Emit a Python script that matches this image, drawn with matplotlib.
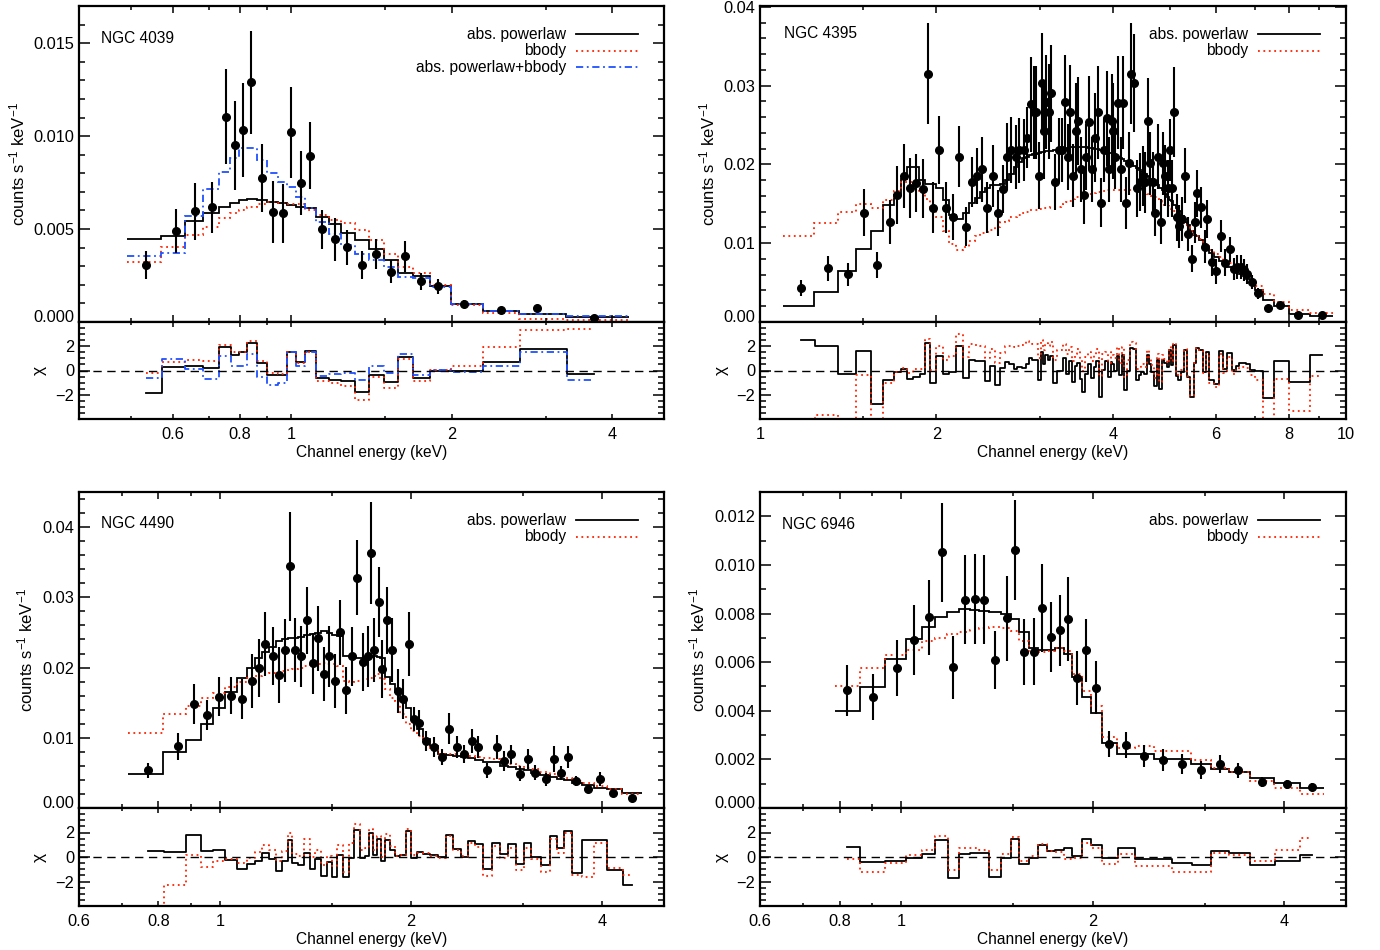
import numpy as np
import matplotlib
matplotlib.use("Agg")
import matplotlib.pyplot as plt
from matplotlib.ticker import FixedLocator, FixedFormatter, NullFormatter, MultipleLocator

plt.rcParams['font.family'] = ['Liberation Sans', 'DejaVu Sans']
plt.rcParams['mathtext.default'] = 'regular'
plt.rcParams['font.size'] = 11

# ---------------------------------------------------------------- NGC 4039
e_4039 = [0.535, 0.608, 0.659, 0.710, 0.755, 0.784, 0.813, 0.842, 0.880, 0.925, 0.966, 1.000, 1.041,
          1.086, 1.144, 1.208, 1.275, 1.356, 1.445, 1.538, 1.636, 1.749, 1.888, 2.106, 2.478, 2.894, 3.698]
flux_4039 = [0.00305, 0.00489, 0.00596, 0.00616, 0.01105, 0.00950, 0.01033, 0.01290, 0.00776, 0.00591,
             0.00584, 0.01020, 0.00747, 0.00895, 0.00498, 0.00444, 0.00401, 0.00305, 0.00365, 0.00271,
             0.00354, 0.00219, 0.00192, 0.00095, 0.00066, 0.00077, 0.00023]
err_4039 = [0.00075, 0.00119, 0.00153, 0.00135, 0.00256, 0.00241, 0.00252, 0.00276, 0.00182, 0.00165,
            0.00157, 0.00245, 0.00171, 0.00181, 0.00106, 0.00115, 0.00094, 0.00075, 0.00081, 0.00063,
            0.00083, 0.00047, 0.00040, 0.00022, 0.00016, 0.00016, 0.00010]
pl_4039 = [0.00446, 0.00462, 0.00543, 0.00589, 0.00620, 0.00641, 0.00656, 0.00663, 0.00656, 0.00647,
           0.00638, 0.00631, 0.00620, 0.00611, 0.00566, 0.00526, 0.00481, 0.00440, 0.00395, 0.00332,
           0.00266, 0.00246, 0.00194, 0.00099, 0.00057, 0.00045, 0.00027]
bb_4039 = [0.00323, 0.00404, 0.00467, 0.00512, 0.00557, 0.00584, 0.00602, 0.00620, 0.00634, 0.00643,
           0.00638, 0.00634, 0.00634, 0.00602, 0.00575, 0.00548, 0.00534, 0.00494, 0.00440, 0.00368,
           0.00296, 0.00261, 0.00198, 0.00090, 0.00049, 0.00018, 0.00010]
plbb_4039 = [0.00356, 0.00372, 0.00570, 0.00713, 0.00805, 0.00880, 0.00934, 0.00934, 0.00871, 0.00800,
             0.00755, 0.00728, 0.00674, 0.00611, 0.00539, 0.00473, 0.00413, 0.00365, 0.00336, 0.00296,
             0.00243, 0.00239, 0.00189, 0.00099, 0.00059, 0.00045, 0.00030]
chi_pl_4039 = [-1.87, 0.25, 0.35, 0.2, 1.9, 1.3, 1.5, 2.3, 0.6, -0.35, -0.4, 1.55, 0.7, 1.6, -0.65, -0.75,
               -0.85, -1.75, -0.4, -0.95, 1.1, -0.6, 0.0, -0.05, 0.7, 1.8, -0.25]
chi_bb_4039 = [-0.2, 0.7, 0.9, 0.75, 2.1, 1.55, 1.55, 2.45, 0.75, -0.2, -0.3, 1.55, 0.6, 1.55, -0.9, -1.0,
               -1.3, -2.4, -0.55, -1.45, 0.95, -0.85, 0.05, 0.4, 1.9, 3.3, 3.45]
chi_plbb_4039 = [-0.65, 0.95, 0.15, -0.7, 1.2, 0.35, 0.4, 1.35, -0.55, -1.2, -1.05, 1.55, 0.4, 1.5, -0.45,
                 -0.3, -0.2, -0.8, 0.4, -0.2, 1.4, -0.35, 0.05, -0.15, 0.35, 1.5, -0.8]
edge_4039 = (0.492, 4.30)

# ---------------------------------------------------------------- NGC 4395
e_4395 = [1.174, 1.306, 1.414, 1.504, 1.585, 1.664, 1.716, 1.759, 1.804, 1.849, 1.894, 1.932, 1.972, 2.022,
          2.077, 2.132, 2.186, 2.247, 2.301, 2.350, 2.391, 2.442, 2.497, 2.547, 2.597, 2.639, 2.684, 2.734,
          2.767, 2.822, 2.859, 2.897, 2.932, 2.963, 2.995, 3.030, 3.058, 3.082, 3.114, 3.143, 3.185, 3.236,
          3.280, 3.310, 3.349, 3.385, 3.425, 3.461, 3.494, 3.530, 3.568, 3.606, 3.649, 3.692, 3.730, 3.770,
          3.815, 3.860, 3.906, 3.948, 3.984, 4.005, 4.036, 4.085, 4.128, 4.161, 4.211, 4.256, 4.295, 4.351,
          4.398, 4.456, 4.498, 4.545, 4.599, 4.634, 4.679, 4.727, 4.778, 4.829, 4.873, 4.918, 4.970, 5.015,
          5.049, 5.095, 5.143, 5.197, 5.253, 5.322, 5.372, 5.464, 5.535, 5.579, 5.654, 5.735, 5.797, 5.896,
          6.007, 6.127, 6.217, 6.330, 6.431, 6.527, 6.613, 6.711, 6.790, 6.899, 7.065, 7.369, 7.715, 8.282,
          9.107]
flux_4395 = [0.00434, 0.00683, 0.00604, 0.01388, 0.00726, 0.01270, 0.01612, 0.01852, 0.01701, 0.01768,
             0.01692, 0.03152, 0.01452, 0.02186, 0.01452, 0.01329, 0.02097, 0.01211, 0.01776, 0.01856,
             0.01937, 0.01452, 0.01848, 0.01388, 0.01692, 0.02097, 0.02182, 0.02097, 0.02182, 0.02182,
             0.02341, 0.02764, 0.02659, 0.02659, 0.01856, 0.03034, 0.02426, 0.02794, 0.02671, 0.02903,
             0.01773, 0.02182,
             0.02182, 0.02794, 0.02097, 0.02666, 0.01856, 0.02426, 0.02553, 0.01937, 0.01608, 0.02097,
             0.02532, 0.01937, 0.02341, 0.02662, 0.01515, 0.02182, 0.02583, 0.01937, 0.02553, 0.02426,
             0.02097, 0.02785, 0.01937, 0.02785, 0.01515, 0.02013, 0.03152, 0.03034, 0.01697, 0.01773,
             0.01848, 0.01773, 0.02545, 0.02017, 0.01773, 0.01388, 0.02097, 0.01275, 0.02017, 0.01856,
             0.01697, 0.02182, 0.01697, 0.02666, 0.01329, 0.01215, 0.01309, 0.01856, 0.01118, 0.00802,
             0.01266, 0.01634, 0.01456, 0.00958, 0.01304, 0.00760, 0.00645, 0.01089, 0.00755, 0.00924,
             0.00676, 0.00696, 0.00696, 0.00663, 0.00612, 0.00506, 0.00367, 0.00178, 0.00219, 0.00089,
             0.00089]
err_4395 = [0.00098, 0.00158, 0.00141, 0.0030, 0.00167, 0.00282, 0.00369, 0.00406, 0.00375, 0.00369,
            0.00377, 0.00636, 0.00319, 0.0043, 0.00325, 0.00289, 0.0039, 0.00245, 0.00321, 0.00358,
            0.00412, 0.00325, 0.00393, 0.00293, 0.00304, 0.00423, 0.00423, 0.00406, 0.00412, 0.0039,
            0.0039, 0.00603, 0.00586, 0.00586, 0.00423, 0.00629, 0.00607, 0.00597, 0.00597, 0.00618,
            0.00358, 0.0041,
            0.0041, 0.0060, 0.0042, 0.0060, 0.0040, 0.0061, 0.0056, 0.0041, 0.0036, 0.0042, 0.0059, 0.0041,
            0.0056, 0.0059, 0.0031, 0.0040, 0.0060, 0.0041, 0.0059, 0.0061, 0.0041, 0.0059, 0.0041, 0.0059,
            0.0033, 0.0040, 0.0064, 0.0062, 0.0036, 0.0037, 0.0038, 0.0039, 0.0055, 0.0040, 0.0039, 0.0030,
            0.0041, 0.0028, 0.0040, 0.0039, 0.0036, 0.0039, 0.0036, 0.0057, 0.0030, 0.0027, 0.0028, 0.0035,
            0.0022, 0.0017, 0.0026, 0.0030, 0.0026, 0.0021, 0.0024, 0.0017, 0.0016, 0.0020, 0.0017, 0.0016,
            0.0014, 0.0015, 0.0015, 0.0014, 0.0013, 0.0009, 0.0007, 0.0004, 0.0004, 0.0003, 0.0003]
pl_4395 = [0.00199, 0.00380, 0.00645, 0.00928, 0.01161, 0.01486, 0.01611, 0.01815, 0.01971, 0.01966,
           0.01806, 0.01757, 0.01757, 0.01699, 0.01543, 0.01358, 0.01310, 0.01378, 0.01504, 0.01572,
           0.01650, 0.01699, 0.01738, 0.01738, 0.01747, 0.01806, 0.01884, 0.01961, 0.02029, 0.02078,
           0.02097, 0.02117, 0.02127, 0.02136, 0.02146, 0.02156, 0.02161, 0.02166, 0.02170, 0.02175,
           0.02180, 0.02185,
           0.0219, 0.0220, 0.0221, 0.0222, 0.0222, 0.0222, 0.0222, 0.0222, 0.0222, 0.0222, 0.0221, 0.0221,
           0.0220, 0.0219, 0.0218, 0.0217, 0.0216, 0.0215, 0.0214, 0.0213, 0.0212, 0.0210, 0.0208, 0.0207,
           0.0204, 0.0202, 0.0200, 0.0198, 0.0196, 0.0193, 0.0190, 0.0188, 0.0185, 0.0182, 0.0181, 0.0178,
           0.0174, 0.0170, 0.0167, 0.0163, 0.0159, 0.0155, 0.0153, 0.0149, 0.0145, 0.0141, 0.0135, 0.0127,
           0.0123, 0.0116, 0.0111, 0.0109, 0.0104, 0.0098, 0.0094, 0.0088, 0.0082, 0.0078, 0.0074, 0.0070,
           0.0067, 0.0064, 0.0061, 0.0058, 0.0055, 0.0050, 0.0040, 0.0028, 0.0020, 0.0010, 0.0007]
bb_4395 = [0.01093, 0.01257, 0.01401, 0.01498, 0.01448, 0.01553, 0.01659, 0.01773, 0.01773, 0.01728,
           0.01650, 0.01562, 0.01436, 0.01329, 0.01161, 0.00992, 0.00916, 0.00950, 0.01028, 0.01096,
           0.01125, 0.01144, 0.01164, 0.01203, 0.01266, 0.01280, 0.01329, 0.01329, 0.01358, 0.01378,
           0.01397, 0.01417, 0.01417, 0.01426, 0.01436, 0.01436, 0.01441, 0.01446, 0.01451, 0.01456,
           0.01460, 0.01465,
           0.0149, 0.0150, 0.0152, 0.0154, 0.0156, 0.0158, 0.0159, 0.0160, 0.0161, 0.0162, 0.0163, 0.0163,
           0.0164, 0.0165, 0.0165, 0.0166, 0.0167, 0.0167, 0.0167, 0.0167, 0.0168, 0.0168, 0.0168, 0.0168,
           0.0168, 0.0168, 0.0168, 0.0167, 0.0167, 0.0166, 0.0165, 0.0165, 0.0163, 0.0162, 0.0160, 0.0158,
           0.0156, 0.0153, 0.0151, 0.0149, 0.0147, 0.0145, 0.0143, 0.0141, 0.0138, 0.0134, 0.0130, 0.0124,
           0.0121, 0.0115, 0.0112, 0.0109, 0.0105, 0.0100, 0.0097, 0.0092, 0.0086, 0.0082, 0.0078, 0.0075,
           0.0072, 0.0069, 0.0066, 0.0063, 0.0059, 0.0054, 0.0046, 0.0035, 0.0025, 0.0015, 0.0011]
chi_pl_4395 = [2.48, 2.0, -0.3, 1.6, -2.75, -0.77, -0.1, 0.1, -0.72, -0.5, -0.3, 2.3, -1.0, 1.2, -0.3, -0.1,
               2.0, -0.65, 0.85, 0.8, 0.75, -0.85, 0.35, -1.2, 0.2, 0.7, 0.5, 0.15, 0.3, 0.2, 0.5, 1.0,
               0.9, 0.9, -0.8, 1.5, 0.5, 1.3, 0.9, 1.2, -1.05, 0.0,
               0.0, 1.0, -0.3, 0.75, -0.95, 0.35, 0.6, -0.7, -1.75, -0.3, 0.55, -0.65, 0.25, 0.8, -2.2,
               0.05, 0.75, -0.5, 0.7, 0.5, -0.05, 1.2, -0.35, 1.25, -1.6, 0.0, 1.85, 1.75, -0.75, -0.4,
               -0.15, -0.3, 1.3, 0.5, -0.1, -1.3, 0.9, -1.55, 0.9, 0.6, 0.3, 1.65, 0.45, 2.1, -0.45, -0.75,
               -0.15, 1.7, -0.55, -2.2, 0.6, 1.85, 1.65, -0.1, 1.55, -0.75, -1.15, 1.6, 0.1, 1.45, 0.05,
               0.4, 0.6, 0.6, 0.5, 0.05, 0.0, -2.25, 0.8, -0.95, 1.25]
chi_bb_4395 = [-6.0, -3.7, -6.0, -0.35, -6.0, -1.0, -0.15, 0.2, -0.2, 0.1, 0.1, 2.6, 0.05, 2.05, 0.9, 1.2,
               3.0, 1.1, 2.2, 2.1, 2.0, 1.0, 1.8, 0.65, 1.45, 2.0, 2.05, 1.95, 2.05, 2.1, 2.45, 2.3, 2.2,
               2.15, 1.0, 2.55, 1.65, 2.3, 2.05, 2.35, 0.85, 1.7,
               1.7, 2.2, 1.4, 1.9, 0.75, 1.4, 1.75, 0.85, 0.0, 1.15, 1.55, 0.75, 1.3, 1.75, -0.45, 1.35,
               1.55, 0.65, 1.55, 1.25, 1.05, 1.9, 0.65, 1.9, -0.5, 0.85, 2.35, 2.25, 0.1, 0.3, 0.55, 0.3,
               1.7, 1.0, 0.45, -0.65, 1.35, -0.95, 1.3, 0.95, 0.65, 1.95, 0.75, 2.25, -0.15, -0.45, 0.05,
               1.8, -0.45, -2.1, 0.6, 1.85, 1.6, -0.2, 1.4, -1.0, -1.4, 1.35, -0.2, 1.15, -0.3, 0.05, 0.25,
               0.25, 0.2, -0.4, -0.8, -6.0, -0.7, -3.3, -0.45]
edge_4395 = (1.094, 9.50)

# ---------------------------------------------------------------- NGC 4490
e_4490 = [0.771, 0.860, 0.910, 0.955, 0.997, 1.042, 1.085, 1.122, 1.150, 1.178, 1.211, 1.238, 1.268, 1.288,
          1.311, 1.341, 1.369, 1.400, 1.427, 1.459, 1.487, 1.516, 1.543, 1.580, 1.613, 1.644, 1.679, 1.708,
          1.728, 1.750, 1.778, 1.801, 1.835, 1.865, 1.904, 1.944, 1.984, 2.020, 2.059, 2.109, 2.169, 2.236,
          2.297, 2.360, 2.425, 2.492, 2.548, 2.635, 2.725, 2.800, 2.876, 2.965, 3.051, 3.134, 3.258, 3.357,
          3.439, 3.533, 3.636, 3.802, 3.969, 4.157, 4.451]
flux_4490 = [0.00535, 0.00877, 0.01484, 0.01318, 0.01584, 0.01598, 0.01551, 0.01807, 0.01992, 0.02334,
             0.02163, 0.01893, 0.02244, 0.03440, 0.02249, 0.02158, 0.02671, 0.02063, 0.02419, 0.01902,
             0.02158, 0.01807, 0.02505, 0.01674, 0.02158, 0.03279, 0.02078, 0.02158, 0.03635, 0.02249,
             0.02932, 0.01983, 0.02671, 0.02249, 0.01665, 0.01551, 0.02334, 0.01271, 0.01209, 0.00953,
             0.00867, 0.00725, 0.01128, 0.00867, 0.00772, 0.00953, 0.00867, 0.00540, 0.00867, 0.00668,
             0.00763, 0.00487, 0.00692, 0.00502, 0.00407, 0.00696, 0.00497, 0.00725, 0.00383, 0.00274,
             0.00416, 0.00217, 0.00146]
err_4490 = [0.00107, 0.00197, 0.00287, 0.00214, 0.00278, 0.00266, 0.00285, 0.00389, 0.00411, 0.00451,
            0.00415, 0.00399, 0.00444, 0.00771, 0.00451, 0.00434, 0.00475, 0.00434, 0.00463, 0.00384,
            0.00434, 0.00389, 0.00463, 0.00332, 0.00420, 0.00534, 0.00415, 0.00434, 0.00724, 0.00456,
            0.00498, 0.00411, 0.00482, 0.00456, 0.00309, 0.00285, 0.00456, 0.00171, 0.00183, 0.00142,
            0.00138, 0.00112, 0.00218, 0.00154, 0.00131, 0.00166, 0.00154, 0.00107, 0.00173, 0.00138,
            0.00133, 0.00107, 0.00142, 0.00109, 0.00095, 0.00183, 0.00102, 0.00154, 0.00071, 0.00059,
            0.00097, 0.00047, 0.00038]
pl_4490 = [0.00478, 0.00796, 0.00972, 0.01191, 0.01418, 0.01650, 0.01855, 0.01997, 0.02140, 0.02220,
           0.02292, 0.02377, 0.02401, 0.02415, 0.02425, 0.02439, 0.02458, 0.02472, 0.02496, 0.02520,
           0.02496, 0.02463, 0.02448, 0.02163, 0.02163, 0.02140, 0.02130, 0.02140, 0.02149, 0.02163,
           0.02149, 0.02140, 0.01864, 0.01760, 0.01655, 0.01522, 0.01428, 0.01285, 0.01119, 0.00977,
           0.00882, 0.00763, 0.00754, 0.00739, 0.00725, 0.00706, 0.00687, 0.00659, 0.00659, 0.00597,
           0.00583, 0.00550, 0.00536, 0.00497, 0.00469, 0.00440, 0.00412, 0.00393, 0.00360, 0.00322,
           0.00288, 0.00265, 0.00217]
bb_4490 = [0.01072, 0.01333, 0.01452, 0.01570, 0.01641, 0.01727, 0.01798, 0.01855, 0.01879, 0.01902,
           0.01926, 0.01940, 0.01950, 0.01959, 0.01973, 0.01997, 0.02021, 0.02045, 0.02054, 0.02059,
           0.02054, 0.02045, 0.02021, 0.01807, 0.01798, 0.01807, 0.01817, 0.01831, 0.01855, 0.01879,
           0.01912, 0.01831, 0.01689, 0.01570, 0.01522, 0.01333, 0.01191, 0.01096, 0.01025, 0.00953,
           0.00858, 0.00772, 0.00763, 0.00763, 0.00754, 0.00739, 0.00725, 0.00706, 0.00692, 0.00668,
           0.00630, 0.00597, 0.00573, 0.00550, 0.00516, 0.00488, 0.00455, 0.00421, 0.00383, 0.00350,
           0.00312, 0.00265, 0.00203]
chi_pl_4490 = [0.52, 0.41, 1.77, 0.47, 0.55, -0.22, -1.0, -0.55, -0.36, 0.33, -0.17, -1.13, -0.36, 1.35,
               -0.5, -0.63, 0.33, -1.0, -0.2, -1.55, -0.44, -1.6, 0.19, -1.6, -0.1, 2.2, -0.1, 0.05, 2.0,
               0.2, 1.5, -0.35, 1.4, 0.6, 0.05, 0.15, 2.1, -0.08, 0.39, 0.28, 0.2, 0.0, 1.8, 0.65, 0.0,
               1.3, 1.1, -1.0, 1.15, 0.28, 1.05, -0.55, 1.15, 0.0, -0.63, 1.7, 0.75, 2.1, -1.3, 1.4, 1.4,
               -1.05, -2.3]
chi_bb_4490 = [-6.0, -2.3, 0.2, -0.8, -0.35, -0.2, -0.5, -0.1, 0.4, 1.0, 0.6, -0.3, 0.5, 2.0, 0.25, 0.05,
               1.45, 0.0, 0.6, -0.63, 0.05, -0.77, 1.0, -1.2, 1.15, 2.7, 0.6, 0.75, 2.3, 0.6, 1.7, 0.0,
               1.85, 0.9, 0.05, 0.2, 2.25, 0.2, 0.35, 0.3, 0.1, -0.1, 1.75, 0.6, 0.1, 1.15, 0.85, -1.55,
               0.9, -0.1, 0.75, -1.1, 0.75, -0.2, -1.2, 1.45, 0.35, 2.0, -1.45, -1.65, 1.15, -0.9, -1.45]
edge_4490 = (0.716, 4.62)

# ---------------------------------------------------------------- NGC 6946
e_6946 = [0.823, 0.903, 0.984, 1.049, 1.106, 1.158, 1.207, 1.260, 1.305, 1.349, 1.404, 1.466, 1.508, 1.557,
          1.615, 1.665, 1.719, 1.775, 1.826, 1.888, 1.953, 2.020, 2.118, 2.258, 2.410, 2.577, 2.760, 2.960,
          3.170, 3.379, 3.683, 4.039, 4.423]
flux_6946 = [0.00484, 0.00458, 0.00575, 0.00690, 0.00784, 0.01052, 0.00579, 0.00857, 0.00859, 0.00857,
             0.00609, 0.00781, 0.01061, 0.00642, 0.00642, 0.00824, 0.00704, 0.00732, 0.00777, 0.00534,
             0.00648, 0.00495, 0.00262, 0.00259, 0.00214, 0.00196, 0.00182, 0.00157, 0.00182, 0.00155,
             0.00108, 0.00097, 0.00086]
err_6946 = [0.00106, 0.00095, 0.00116, 0.00144, 0.00155, 0.00203, 0.00130, 0.00183, 0.00185, 0.00183,
            0.00119, 0.00175, 0.00205, 0.00137, 0.00138, 0.00181, 0.00143, 0.00146, 0.00172, 0.00112,
            0.00130, 0.00109, 0.00054, 0.00055, 0.00047, 0.00045, 0.00041, 0.00037, 0.00038, 0.00032,
            0.00021, 0.00019, 0.00018]
pl_6946 = [0.00399, 0.00498, 0.00612, 0.00695, 0.00745, 0.00784, 0.00807, 0.00817, 0.00814, 0.00811,
           0.00807, 0.00800, 0.00777, 0.00722, 0.00657, 0.00650, 0.00650, 0.00657, 0.00635, 0.00539,
           0.00457, 0.00391, 0.00269, 0.00223, 0.00223, 0.00203, 0.00203, 0.00179, 0.00159, 0.00149,
           0.00122, 0.00104, 0.00081]
bb_6946 = [0.00502, 0.00574, 0.00628, 0.00650, 0.00688, 0.00701, 0.00715, 0.00726, 0.00733, 0.00740,
           0.00743, 0.00740, 0.00729, 0.00688, 0.00640, 0.00640, 0.00646, 0.00660, 0.00646, 0.00553,
           0.00482, 0.00420, 0.00292, 0.00248, 0.00255, 0.00234, 0.00234, 0.00196, 0.00166, 0.00149,
           0.00113, 0.00081, 0.00056]
chi_pl_6946 = [0.8, -0.4, -0.33, -0.08, 0.28, 1.35, -1.7, 0.25, 0.33, 0.33, -1.6, -0.08, 1.43, -0.55,
               -0.08, 1.0, 0.47, 0.55, 0.75, 0.05, 1.43, 1.0, -0.08, 0.7, -0.17, -0.17, -0.5, -0.63, 0.52,
               0.33, -0.63, -0.36, 0.14]
chi_bb_6946 = [-0.17, -1.2, -0.45, 0.2, 0.6, 1.75, -1.05, 0.7, 0.7, 0.6, -1.1, 0.28, 1.6, -0.35, 0.05,
               1.07, 0.47, 0.4, -0.2, -0.1, 1.15, 0.75, -0.55, 0.28, -0.77, -0.77, -1.2, -1.2, 0.33, 0.2,
               -0.36, 0.55, 1.57]
edge_6946 = (0.788, 4.62)

# ---------------------------------------------------------------- styling
RED = '#ff2200'
BLUE = '#2050ff'
LS_RED = (0, (1, 2))
LS_BLUE = (0, (4, 2, 1, 2))
LW = 1.3
TICK_FS = 11.8
TEXT_FS = 11.2

W, H = 1380.0, 950.0
fig = plt.figure(figsize=(13.8, 9.5), dpi=100)


def add_ax(l, t, r, b):
    return fig.add_axes([l / W, 1 - b / H, (r - l) / W, (b - t) / H])


def bin_edges(E, lohi):
    E = np.asarray(E, float)
    return np.concatenate([[lohi[0]], np.sqrt(E[:-1] * E[1:]), [lohi[1]]])


def common(ax, xlim, xmaj, xmin, xlen):
    ax.set_xscale('log')
    ax.set_xlim(*xlim)
    for s in ax.spines.values():
        s.set_linewidth(1.6)
    ax.xaxis.set_major_locator(FixedLocator(xmaj))
    ax.xaxis.set_minor_locator(FixedLocator(xmin))
    ax.xaxis.set_minor_formatter(NullFormatter())
    ax.tick_params(which='both', direction='in', top=True, right=True, width=1.1,
                   labelsize=TICK_FS, colors='k')
    ax.tick_params(axis='y', which='major', length=8, pad=3.5)
    ax.tick_params(axis='y', which='minor', length=4)
    ax.tick_params(axis='x', which='major', length=xlen[0], pad=6)
    ax.tick_params(axis='x', which='minor', length=xlen[1])


def panel(box_main, box_res, xlim, xmaj, xmaj_lbl, xmin, ylim, ymaj, yfmt, ymin,
          name, name_pos, E, flux, err, models, chis, edges, ylab_x, chi_x):
    axm = add_ax(*box_main)
    axr = add_ax(*box_res)
    common(axm, xlim, xmaj, xmin, (5, 3))
    common(axr, xlim, xmaj, xmin, (3.5, 2))
    axm.xaxis.set_major_formatter(NullFormatter())
    axr.xaxis.set_major_formatter(FixedFormatter(xmaj_lbl))

    # main spectrum
    ed = bin_edges(E, edges)
    for vals, col, ls in models:
        axm.stairs(vals, ed, baseline=None, color=col, linestyle=ls, lw=LW)
    axm.errorbar(E, flux, yerr=err, fmt='o', ms=5.5, color='k', ecolor='k',
                 elinewidth=1.5, capsize=0, zorder=4)
    axm.set_ylim(*ylim)
    axm.yaxis.set_major_locator(FixedLocator(ymaj))
    axm.yaxis.set_major_formatter(FixedFormatter([yfmt % v for v in ymaj]))
    axm.yaxis.set_minor_locator(MultipleLocator(ymin))
    axm.get_yticklabels()[0].set_va('baseline')
    axm.set_ylabel('counts s$^{-1}$ keV$^{-1}$', fontsize=12)
    axm.yaxis.set_label_coords(ylab_x, 0.5)
    axm.text(name_pos[0], name_pos[1], name, transform=axm.transAxes,
             ha='left', va='center', fontsize=TEXT_FS)

    # legend
    ys = [0.910, 0.858, 0.806]
    for (vals, col, ls), lab, y in zip(models, LABELS[:len(models)], ys):
        axm.text(0.833, y, lab, transform=axm.transAxes, ha='right', va='center', fontsize=TEXT_FS)
        axm.plot([0.849, 0.956], [y, y], transform=axm.transAxes, color=col, ls=ls, lw=LW)

    # residuals
    for (vals, col, ls), chi in zip(models, chis):
        axr.step(E, chi, where='mid', color=col, linestyle=ls, lw=LW)
    axr.axhline(0, color='k', ls=(0, (6, 4)), lw=1.0)
    axr.set_ylim(-4, 4)
    axr.yaxis.set_major_locator(FixedLocator([-2, 0, 2]))
    axr.yaxis.set_major_formatter(FixedFormatter(['\u22122', '0', '2']))
    axr.yaxis.set_minor_locator(MultipleLocator(0.5))
    axr.set_ylabel('\u03c7', fontsize=12.5)
    axr.yaxis.set_label_coords(chi_x, 0.5)
    axr.set_xlabel('Channel energy (keV)', fontsize=TEXT_FS, labelpad=2)
    for a in (axm, axr):
        a.set_xlim(*xlim)
    return axm, axr


LABELS = ['abs. powerlaw', 'bbody', 'abs. powerlaw+bbody']

X1 = [0.6, 0.8, 1, 2, 4]
X1L = ['0.6', '0.8', '1', '2', '4']

panel((79, 6, 664, 322), (79, 322, 664, 419), (0.4, 5.0), X1, X1L, [0.5, 0.7, 0.9, 1.5, 3],
      (0, 0.017), [0, 0.005, 0.010, 0.015], '%.3f', 0.001,
      'NGC 4039', (0.037, 0.896), e_4039, flux_4039, err_4039,
      [(pl_4039, 'k', '-'), (bb_4039, RED, LS_RED), (plbb_4039, BLUE, LS_BLUE)],
      [chi_pl_4039, chi_bb_4039, chi_plbb_4039], edge_4039, -0.089, -0.055)

panel((760, 6, 1346, 322), (760, 322, 1346, 419), (1.0, 10.0), [1, 2, 4, 6, 8, 10],
      ['1', '2', '4', '6', '8', '10'], [1.5, 3, 5, 7, 9],
      (0, 0.0401), [0, 0.01, 0.02, 0.03, 0.04], '%.2f', 0.002,
      'NGC 4395', (0.041, 0.914), e_4395, flux_4395, err_4395,
      [(pl_4395, 'k', '-'), (bb_4395, RED, LS_RED)],
      [chi_pl_4395, chi_bb_4395], edge_4395, -0.073, -0.053)

panel((79, 492, 664, 808), (79, 808, 664, 906), (0.6, 5.0), X1, X1L, [0.7, 0.9, 1.5, 3],
      (0, 0.045), [0, 0.01, 0.02, 0.03, 0.04], '%.2f', 0.002,
      'NGC 4490', (0.037, 0.901), e_4490, flux_4490, err_4490,
      [(pl_4490, 'k', '-'), (bb_4490, RED, LS_RED)],
      [chi_pl_4490, chi_bb_4490], edge_4490, -0.075, -0.055)

panel((760, 492, 1346, 808), (760, 808, 1346, 906), (0.6, 5.0), X1, X1L, [0.7, 0.9, 1.5, 3],
      (0, 0.013), [0, 0.002, 0.004, 0.006, 0.008, 0.010, 0.012], '%.3f', 0.001,
      'NGC 6946', (0.0375, 0.898), e_6946, flux_6946, err_6946,
      [(pl_6946, 'k', '-'), (bb_6946, RED, LS_RED)],
      [chi_pl_6946, chi_bb_6946], edge_6946, -0.090, -0.053)

fig.savefig('out.png', dpi=100, facecolor='white')
